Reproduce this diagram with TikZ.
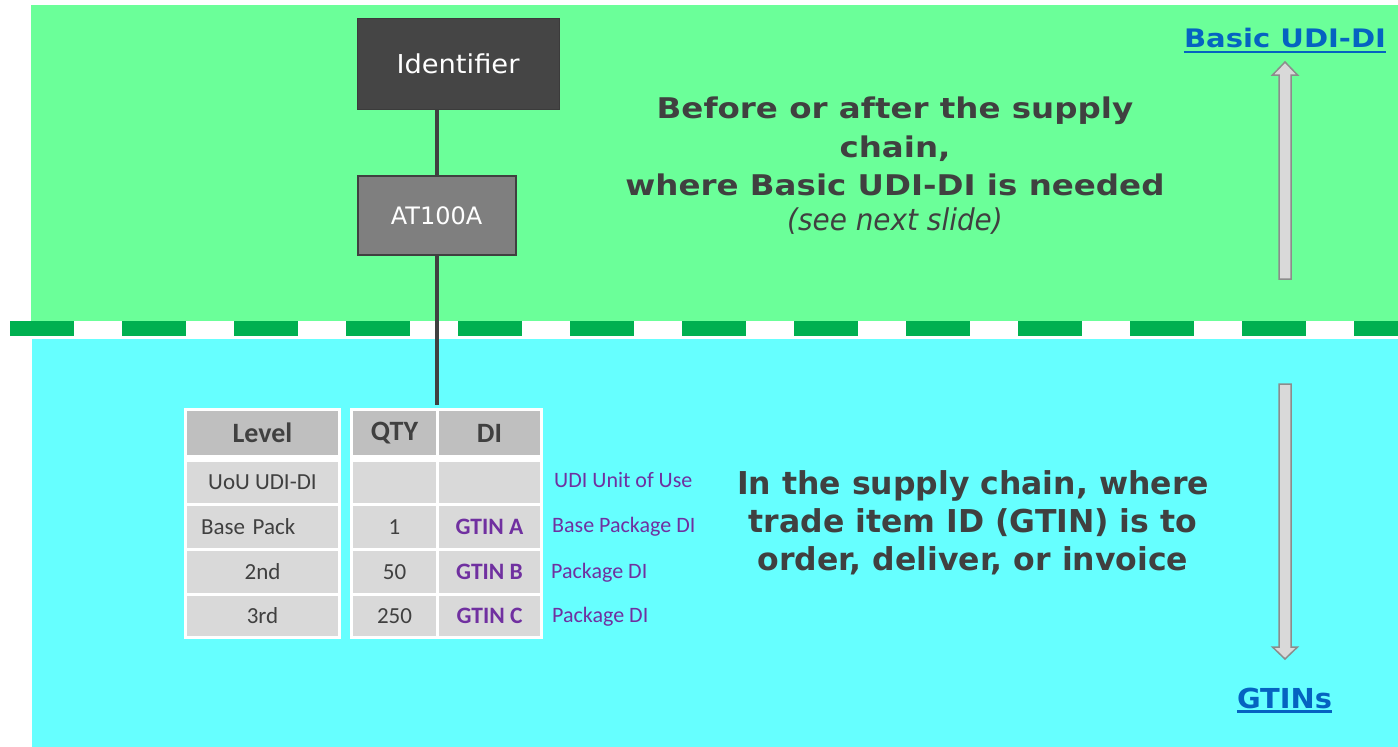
\documentclass[tikz,border=0pt]{standalone}
\usepackage{fontspec}
\setmainfont{DejaVu Sans}
\newfontfamily\widesans[FakeStretch=1.14]{DejaVu Sans}
\newfontfamily\plainsans{DejaVu Sans}
\newfontfamily\narrowsans[FakeStretch=0.93]{DejaVu Sans}
\newfontfamily\idsans[FakeStretch=1.05]{DejaVu Sans}
\newfontfamily\calib{Carlito}
\definecolor{topgreen}{HTML}{6BFF99}
\definecolor{botcyan}{HTML}{66FFFF}
\definecolor{dashgreen}{HTML}{00B050}
\definecolor{darktext}{HTML}{404040}
\definecolor{idfill}{HTML}{454545}
\definecolor{atfill}{HTML}{7F7F7F}
\definecolor{cellgray}{HTML}{D9D9D9}
\definecolor{headgray}{HTML}{BFBFBF}
\definecolor{purp}{HTML}{7030A0}
\definecolor{linkblue}{HTML}{0563C1}
\definecolor{arrowfill}{HTML}{D9D9D9}
\definecolor{arrowedge}{HTML}{8C8C8C}
\begin{document}
\begin{tikzpicture}[x=1pt,y=-1pt,
  idbox/.style={fill=idfill, draw=idfill!85!black, line width=1, minimum width=202, minimum height=91, inner sep=0, text=white, font=\idsans\fontsize{26}{30}\selectfont},
  atbox/.style={fill=atfill, draw=darktext, line width=2, minimum width=158, minimum height=79, inner sep=0, text=white, font=\plainsans\fontsize{24}{28}\selectfont},
  conn/.style={draw=darktext, line width=4},
  upline/.style={anchor=base, inner sep=0, text=darktext, font=\widesans\bfseries\fontsize{28.5}{34}\selectfont},
  upital/.style={anchor=base, inner sep=0, text=darktext, font=\narrowsans\itshape\fontsize{30}{34}\selectfont},
  lowline/.style={anchor=base, inner sep=0, text=darktext, font=\plainsans\bfseries\fontsize{31.5}{38}\selectfont},
  cellbox/.style={fill=cellgray, inner sep=0, text=darktext, font=\calib\fontsize{23}{28}\selectfont},
  headbox/.style={fill=headgray, inner sep=0, text=darktext, font=\calib\bfseries\fontsize{28}{32}\selectfont},
  gtinbox/.style={cellbox, text=purp, font=\calib\bfseries\fontsize{23.5}{28}\selectfont},
  purplabel/.style={anchor=base west, inner sep=0, text=purp, font=\calib\fontsize{22}{26}\selectfont},
  linklabel/.style={anchor=base, inner sep=0, text=linkblue},
  linkrule/.style={draw=linkblue, line width=2.8},
  blockarrow/.style={fill=arrowfill, draw=arrowedge, line width=1.5, line join=miter},
  dashsep/.style={draw=dashgreen, line width=15, dash pattern=on 64 off 48}
]
\useasboundingbox (0,0) rectangle (1398,747);
\fill[white] (0,0) rectangle (1398,747);
% backgrounds
\fill[topgreen] (31,5) rectangle (1398,321);
\fill[botcyan] (32,339) rectangle (1398,747);
\draw[dashsep] (10,328.5) -- (1398,328.5);

% hierarchy boxes
\node[idbox] (id) at (458,63.5) {Identifier};
\node[atbox] (at) at (436.5,215.5) {AT100A};
\coordinate (tabtop) at (436.5,405);
\draw[conn] (at.north |- id.south) -- (at.north);
\draw[conn] (at.south) -- (tabtop);

% upper text
\node[upline] (u1) at (895,118) {Before or after the supply};
\node[upline] (u2) at (895,157) {chain,};
\node[upline] (u3) at (895,195) {where Basic UDI-DI is needed};
\node[upital] (u4) at (895,230) {(see next slide)};

% lower text
\node[lowline] (l1) at (973,494) {In the supply chain, where};
\node[lowline] (l2) at (973,532) {trade item ID (GTIN) is to};
\node[lowline] (l3) at (973,570) {order, deliver, or invoice};

% table frames
\fill[white] (184,408) rectangle (341,639);
\fill[white] (350,408) rectangle (543,639);

% left column
\node[headbox, minimum width=151, minimum height=44] (lvh) at (262.5,433) {Level};
\node[cellbox, minimum width=151, minimum height=41] (lv1) at (262.5,482.5) {UoU UDI-DI};
\node[cellbox, minimum width=151, minimum height=42, inner xsep=14, text width=123, align=left] (lv2) at (262.5,527) {Base Pack};
\node[cellbox, minimum width=151, minimum height=42] (lv3) at (262.5,572) {2nd};
\node[cellbox, minimum width=151, minimum height=40] (lv4) at (262.5,616) {3rd};

% qty column
\node[headbox, minimum width=83, minimum height=44] (qh) at (394.5,433) {QTY};
\node[cellbox, minimum width=83, minimum height=41] (q1) at (394.5,482.5) {};
\node[cellbox, minimum width=83, minimum height=42] (q2) at (394.5,527) {1};
\node[cellbox, minimum width=83, minimum height=42] (q3) at (394.5,572) {50};
\node[cellbox, minimum width=83, minimum height=40] (q4) at (394.5,616) {250};

% DI column
\node[headbox, minimum width=101, minimum height=44] (dh) at (489.5,433) {DI};
\node[cellbox, minimum width=101, minimum height=41] (d1) at (489.5,482.5) {};
\node[gtinbox, minimum width=101, minimum height=42] (d2) at (489.5,527) {GTIN A};
\node[gtinbox, minimum width=101, minimum height=42] (d3) at (489.5,572) {GTIN B};
\node[gtinbox, minimum width=101, minimum height=40] (d4) at (489.5,616) {GTIN C};

% purple labels
\node[purplabel] (p1) at (554,487) {UDI Unit of Use};
\node[purplabel] (p2) at (552,532) {Base Package DI};
\node[purplabel] (p3) at (551,578.5) {Package DI};
\node[purplabel] (p4) at (552,622.5) {Package DI};

% block arrows
\draw[blockarrow] (1279,279) -- (1279,75) -- (1272.5,75) -- (1285,62) -- (1297.5,75) -- (1291,75) -- (1291,279) -- cycle;
\draw[blockarrow] (1279,384) -- (1279,647) -- (1272.5,647) -- (1285,659) -- (1297.5,647) -- (1291,647) -- (1291,384) -- cycle;

% link labels
\node[linklabel, font=\widesans\bfseries\fontsize{25.5}{30}\selectfont] (basic) at (1285,47.5) {Basic UDI-DI};
\draw[linkrule] ([yshift=-4.5pt]basic.base west) -- ([yshift=-4.5pt]basic.base east);
\node[linklabel, font=\idsans\bfseries\fontsize{27.5}{32}\selectfont] (gtins) at (1284.5,708) {GTINs};
\draw[linkrule] ([yshift=-3.5pt]gtins.base west) -- ([yshift=-3.5pt]gtins.base east);
\end{tikzpicture}
\end{document}
